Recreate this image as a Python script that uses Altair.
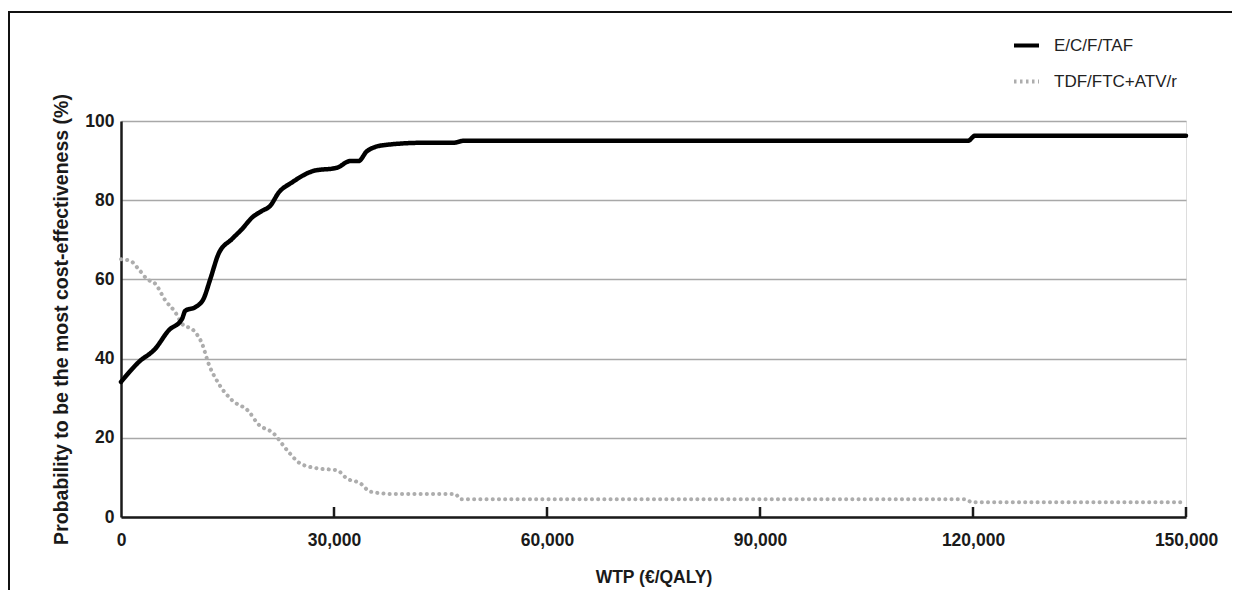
import altair as alt
import pandas as pd

series_names = ["E/C/F/TAF", "TDF/FTC+ATV/r"]

black_x = [0, 2480, 4830, 6700, 8590, 9060, 10470, 11630, 12580, 13750, 15630, 17040,
           18450, 19860, 21030, 22200, 24090, 27130, 30420, 32300, 33470, 34650, 36990,
           42620, 46850, 48260, 119300, 120300, 150000]
black_y = [34.1, 39.1, 42.5, 47.1, 50.0, 52.1, 53.0, 55.1, 60.1, 66.5, 70.2, 72.7,
           75.6, 77.3, 78.6, 81.9, 84.5, 87.4, 88.2, 89.9, 89.9, 92.4, 93.9,
           94.5, 94.5, 95.0, 95.0, 96.3, 96.3]

gray_x = [0, 1310, 2480, 3660, 4830, 6240, 7650, 8590, 10230, 11410, 12340, 13750,
          15630, 17970, 19300, 21490, 23380, 25260, 27610, 30420, 31830, 33710, 35110,
          38400, 47090, 47800, 118900, 119900, 150000]
gray_y = [65.1, 64.7, 62.6, 60.1, 58.9, 54.7, 51.7, 48.8, 47.1, 43.8, 38.7, 33.7,
          29.5, 26.7, 23.5, 21.1, 16.9, 13.5, 12.3, 11.8, 9.7, 8.5, 6.4,
          5.8, 5.8, 4.5, 4.5, 3.7, 3.7]

x_ticks = [0, 30000, 60000, 90000, 120000, 150000]
up_ticks = [30000, 60000, 90000, 120000, 150000]
y_ticks = [0, 20, 40, 60, 80, 100]

df = pd.concat([
    pd.DataFrame({"wtp": black_x, "prob": black_y, "series": series_names[0]}),
    pd.DataFrame({"wtp": gray_x, "prob": gray_y, "series": series_names[1]}),
], ignore_index=True)

W, H = 1065, 396
FONT = "Liberation Sans"
DARK = "#1a1a1a"
GRAY = "#adadad"

legend = alt.Legend(
    orient="none", legendX=891, legendY=-90, title=None, padding=0,
    symbolType="stroke", symbolSize=625, symbolStrokeWidth=4,
    labelFont=FONT, labelFontSize=17, labelColor="#222222", labelOffset=13,
    rowPadding=13,
)

x_enc = alt.X(
    "wtp:Q",
    scale=alt.Scale(domain=[0, 150000], nice=False),
    axis=alt.Axis(
        values=x_ticks, format=",d", title="WTP (€/QALY)", grid=False, ticks=False,
        domainColor=DARK, domainWidth=2.5,
        labelFont=FONT, labelFontSize=17.5, labelFontWeight="bold", labelColor=DARK,
        labelPadding=14, labelFlush=False,
        titleFont=FONT, titleFontSize=17.5, titleFontWeight="bold", titleColor=DARK,
        titlePadding=20,
    ),
)
y_enc = alt.Y(
    "prob:Q",
    scale=alt.Scale(domain=[0, 100], nice=False),
    axis=alt.Axis(
        values=y_ticks, title="Probability to be the most cost-effectiveness (%)",
        grid=True, gridColor="#a8a8a8", gridWidth=1.5, ticks=False,
        domainColor=DARK, domainWidth=2.5,
        labelFont=FONT, labelFontSize=17.5, labelFontWeight="bold", labelColor=DARK,
        labelPadding=7,
        titleFont=FONT, titleFontSize=19.5, titleFontWeight="bold", titleColor=DARK,
        titlePadding=13,
    ),
)
color_enc = alt.Color(
    "series:N",
    scale=alt.Scale(domain=series_names, range=["#000000", GRAY]),
    legend=legend,
)
dash_enc = alt.StrokeDash(
    "series:N",
    scale=alt.Scale(domain=series_names, range=[[1, 0], [2.5, 3.5]]),
    legend=legend,
)

base = alt.Chart(df)

# dotted grey curve (round-capped dots)
gray_line = base.transform_filter(alt.datum.series == series_names[1]).mark_line(
    strokeWidth=4, strokeCap="round", interpolate="monotone",
    color=GRAY, strokeDash=[0.1, 6.1],
).encode(x=x_enc, y=y_enc)

# solid black curve, carries the legend for both series
black_line = base.transform_filter(alt.datum.series == series_names[0]).mark_line(
    strokeWidth=4.5, strokeCap="round", interpolate="monotone"
).encode(x=x_enc, y=y_enc, color=color_enc, strokeDash=dash_enc)

ticks = alt.Chart(pd.DataFrame({"t": up_ticks})).mark_rule(
    color=DARK, strokeWidth=2.5
).encode(x=alt.X("t:Q"), y=alt.value(H), y2=alt.value(H - 10))

one = pd.DataFrame({"a": [0]})
frame_top = alt.Chart(one).mark_rule(color="#111111", strokeWidth=2).encode(
    x=alt.value(-112), x2=alt.value(1111), y=alt.value(-109)
)
frame_left = alt.Chart(one).mark_rule(color="#111111", strokeWidth=2).encode(
    x=alt.value(-112), y=alt.value(-110), y2=alt.value(470)
)

chart = alt.layer(gray_line, black_line, ticks, frame_top, frame_left).properties(
    width=W, height=H,
    autosize=alt.AutoSizeParams(type="none"),
    padding={"left": 113, "top": 113, "right": 46, "bottom": 73},
    background="white",
).configure_view(stroke=None).configure(font=FONT)

chart.save("out.html", embed_options={"renderer": "svg", "actions": False})
